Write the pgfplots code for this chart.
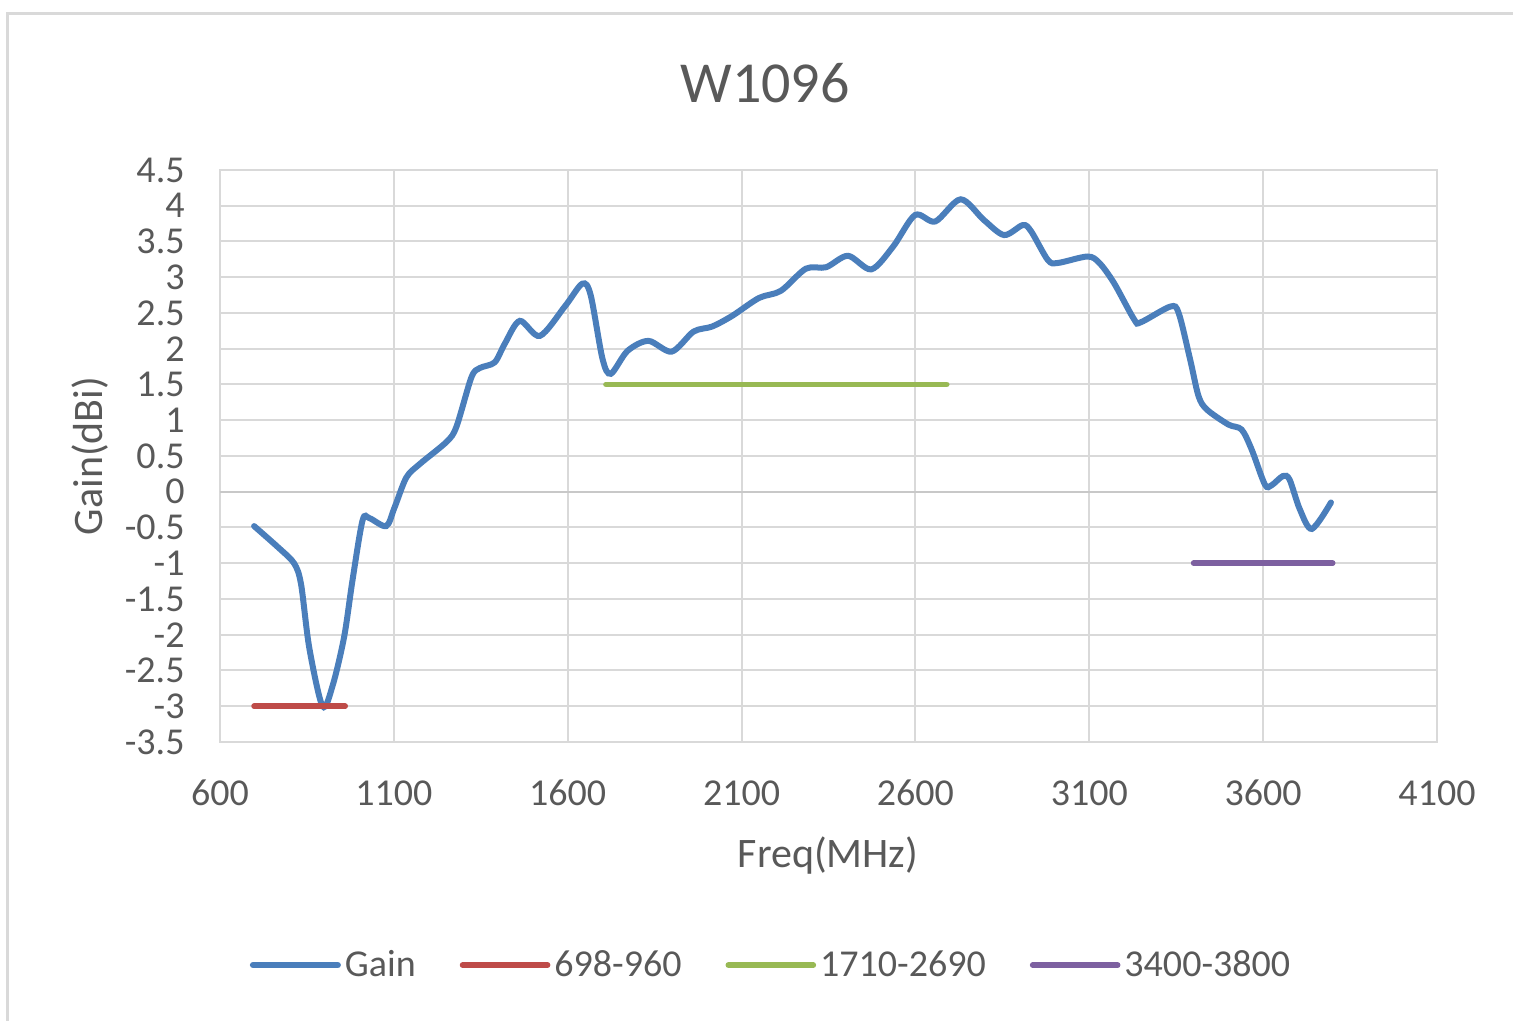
\documentclass[border=0pt]{standalone}
\usepackage{pgfplots}
\pgfplotsset{compat=1.18}
\usepackage{fontspec}
\setmainfont{Carlito}
\definecolor{txt}{HTML}{595959}
\definecolor{grd}{HTML}{D9D9D9}
\definecolor{zline}{HTML}{C8C8C8}
\definecolor{cblue}{HTML}{4A7EBB}
\definecolor{cred}{HTML}{BE4B48}
\definecolor{cgreen}{HTML}{98B954}
\definecolor{cpurple}{HTML}{7D60A0}
\begin{document}
\begin{tikzpicture}
\path[use as bounding box] (-110pt,-139.5pt) rectangle (646.5pt,371pt);
\draw[grd, line width=1.5pt] (-106pt,-139.5pt) -- (-106pt,364pt) -- (646.5pt,364pt);
\begin{axis}[
  at={(0,0)}, anchor=south west,
  width=608.5pt, height=286pt, scale only axis,
  xmin=600, xmax=4100, ymin=-3.5, ymax=4.5,
  xtick={600,1100,1600,2100,2600,3100,3600,4100},
  ytick={-3.5,-3,-2.5,-2,-1.5,-1,-0.5,0,0.5,1,1.5,2,2.5,3,3.5,4,4.5},
  grid=major, major grid style={grd, line width=1pt},
  extra y ticks={0}, extra y tick labels={},
  extra y tick style={grid=major, major grid style={zline, line width=1.2pt}},
  axis line style={grd, line width=1pt},
  tick style={draw=none},
  /pgf/number format/assume math mode=true,
  /pgf/number format/1000 sep={},
  ticklabel style={font=\fontsize{19}{19}\selectfont, text=txt},
  xticklabel style={anchor=base, inner sep=0pt, yshift=-31.5pt},
  yticklabel style={anchor=east, inner sep=0pt, xshift=-17.5pt},
  title={W1096},
  title style={at={(axis description cs:0.4478,1.131)}, anchor=center, font=\fontsize{29}{29}\selectfont, text=txt},
  xlabel={Freq(MHz)},
  xlabel style={at={(axis description cs:0.4996,-0.1976)}, anchor=center, font=\fontsize{21}{21}\selectfont, text=txt},
  ylabel={Gain(dBi)},
  ylabel style={at={(axis description cs:-0.1068,0.5)}, anchor=center, font=\fontsize{21}{21}\selectfont, text=txt},
  legend columns=4,
  legend style={at={(axis description cs:0.4536,-0.390)}, anchor=center, draw=none, fill=none,
    font=\fontsize{19}{19}\selectfont, text=txt, inner sep=0pt,
    /tikz/every even column/.append style={column sep=20pt}},
  legend image code/.code={\draw[#1] (0pt,0pt) -- (42.5pt,0pt);},
]
\addplot[cblue, line width=3pt, line cap=round, smooth, tension=0.5] coordinates {
(698,-0.48) (770,-0.79) (813,-1.0) (833,-1.29) (857,-2.19) (895,-3.0) (924,-2.71) (957,-2.03)
(981,-1.24) (1010,-0.40) (1030,-0.37) (1078,-0.48) (1102,-0.22) (1136,0.20) (1175,0.39)
(1252,0.70) (1280,0.91) (1323,1.60) (1347,1.73) (1390,1.81) (1419,2.07) (1462,2.39)
(1520,2.18) (1593,2.60) (1642,2.91) (1666,2.75) (1700,1.86) (1724,1.65) (1772,1.97)
(1832,2.11) (1899,1.96) (1962,2.24) (2015,2.31) (2073,2.46) (2150,2.71) (2213,2.81)
(2285,3.12) (2343,3.14) (2406,3.30) (2473,3.11) (2536,3.43) (2599,3.87) (2657,3.78)
(2730,4.09) (2797,3.80) (2855,3.59) (2909,3.73) (2933,3.64) (2981,3.24) (3010,3.20)
(3095,3.29) (3129,3.20) (3171,2.92) (3229,2.41) (3248,2.37) (3333,2.59) (3357,2.50)
(3390,1.85) (3414,1.34) (3438,1.15) (3500,0.94) (3538,0.87) (3567,0.59) (3605,0.10)
(3624,0.09) (3657,0.22) (3676,0.17) (3705,-0.24) (3740,-0.52) (3795,-0.15)
};
\addlegendentry{Gain}
\addplot[cred, line width=2.8pt, line cap=round] coordinates {(698,-3) (960,-3)};
\addlegendentry{698-960}
\addplot[cgreen, line width=2.8pt, line cap=round] coordinates {(1710,1.5) (2690,1.5)};
\addlegendentry{1710-2690}
\addplot[cpurple, line width=2.8pt, line cap=round] coordinates {(3400,-1) (3800,-1)};
\addlegendentry{3400-3800}
\end{axis}
\end{tikzpicture}
\end{document}
